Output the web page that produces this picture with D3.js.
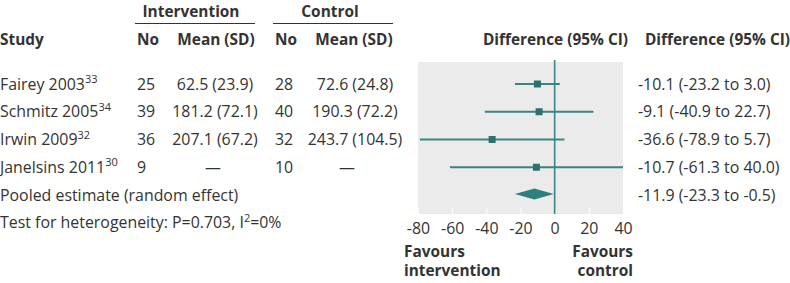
<!DOCTYPE html>
<html>
<head>
<meta charset="utf-8">
<script src="https://cdn.jsdelivr.net/npm/d3@7"></script>
<style>
  body { margin: 0; background: #fff; }
  svg { display: block; font-family: "Open Sans", sans-serif; }
</style>
</head>
<body>
<svg id="chart" width="790" height="283"></svg>
<script>
const studies = ["Fairey 2003", "Schmitz 2005", "Irwin 2009", "Janelsins 2011"];
const refs = ["33", "34", "32", "30"];
const nInt = ["25", "39", "36", "9"];
const meanInt = ["62.5 (23.9)", "181.2 (72.1)", "207.1 (67.2)", "—"];
const nCtl = ["28", "40", "32", "10"];
const meanCtl = ["72.6 (24.8)", "190.3 (72.2)", "243.7 (104.5)", "—"];
const diff = [-10.1, -9.1, -36.6, -10.7];
const lower = [-23.2, -40.9, -78.9, -61.3];
const upper = [3.0, 22.7, 5.7, 40.0];
const pooled = {diff: -11.9, lower: -23.3, upper: -0.5};
const xTicks = [-80, -60, -40, -20, 0, 20, 40];

const teal = "#3a8583";
const tealDark = "#2c7170";
const textColor = "#333";
const fontSize = 15.9;
const boldSize = 15.4;

const svg = d3.select("#chart");

const rowKeys = [...studies, "pooled"];
const y = d3.scalePoint()
    .domain(rowKeys)
    .range([84, 195]);

const x = d3.scaleLinear()
    .domain([-80, 40])
    .range([418, 623]);

const fmt = d => d.toFixed(1);
const ciLabel = (d, lo, hi) => fmt(d) + " (" + fmt(lo) + " to " + fmt(hi) + ")";

// header
const head = svg.append("g")
    .attr("fill", textColor)
    .style("font-weight", "bold")
    .style("font-size", boldSize + "px");

head.append("text").attr("x", 191).attr("y", 17).attr("text-anchor", "middle").text("Intervention");
head.append("text").attr("x", 330).attr("y", 17).attr("text-anchor", "middle").text("Control");
svg.append("line").attr("x1", 135).attr("x2", 255).attr("y1", 23.5).attr("y2", 23.5)
    .attr("stroke", textColor).attr("stroke-width", 1);
svg.append("line").attr("x1", 273).attr("x2", 393).attr("y1", 23.5).attr("y2", 23.5)
    .attr("stroke", textColor).attr("stroke-width", 1);

head.append("text").attr("x", 0).attr("y", 45).text("Study");
head.append("text").attr("x", 137).attr("y", 45).text("No");
head.append("text").attr("x", 216).attr("y", 45).attr("text-anchor", "middle").text("Mean (SD)");
head.append("text").attr("x", 275).attr("y", 45).text("No");
head.append("text").attr("x", 354).attr("y", 45).attr("text-anchor", "middle").text("Mean (SD)");
head.append("text").attr("x", 628).attr("y", 45).attr("text-anchor", "end").text("Difference (95% CI)");
head.append("text").attr("x", 790).attr("y", 45).attr("text-anchor", "end").text("Difference (95% CI)");

// plot background
const plot = svg.append("g");
plot.append("rect")
    .attr("x", x(-80)).attr("y", 62)
    .attr("width", x(40) - x(-80)).attr("height", 152)
    .attr("fill", "#ebebeb");

const axis = plot.append("g")
    .attr("transform", "translate(0,214)")
    .call(d3.axisBottom(x).tickValues(xTicks).tickSize(-6).tickPadding(9).tickFormat(d3.format("d")));
axis.select(".domain").remove();
axis.selectAll(".tick line").attr("stroke", "#fff").attr("stroke-width", 1);
axis.selectAll(".tick text")
    .attr("fill", textColor)
    .style("font-family", "'Open Sans', sans-serif")
    .style("font-size", fontSize + "px")
    .text(d => d < 0 ? "-" + Math.abs(d) : d);

// zero line
plot.append("line")
    .attr("x1", x(0)).attr("x2", x(0))
    .attr("y1", 60).attr("y2", 214)
    .attr("stroke", teal).attr("stroke-width", 1.6);

// study rows
const rows = svg.append("g")
    .attr("fill", textColor)
    .style("font-size", fontSize + "px");

studies.forEach((s, i) => {
    const yy = y(s) + 5.5;
    const t = rows.append("text").attr("x", 0).attr("y", yy);
    t.append("tspan").text(s);
    t.append("tspan").attr("dy", -6.5).style("font-size", "11px").text(refs[i]);
    rows.append("text").attr("x", 137).attr("y", yy).text(nInt[i]);
    rows.append("text").attr("x", meanInt[i] === "—" ? 213 : 215).attr("y", yy)
        .attr("text-anchor", "middle").text(meanInt[i]);
    rows.append("text").attr("x", 275).attr("y", yy).text(nCtl[i]);
    rows.append("text").attr("x", meanCtl[i] === "—" ? 347 : 355).attr("y", yy)
        .attr("text-anchor", "middle").text(meanCtl[i]);
    rows.append("text").attr("x", 638).attr("y", yy).text(ciLabel(diff[i], lower[i], upper[i]));
});

rows.append("text").attr("x", 0).attr("y", y("pooled") + 5.5).text("Pooled estimate (random effect)");
rows.append("text").attr("x", 638).attr("y", y("pooled") + 5.5)
    .text(ciLabel(pooled.diff, pooled.lower, pooled.upper));

const het = rows.append("text").attr("x", 0).attr("y", 228);
het.append("tspan").text("Test for heterogeneity: P=0.703, I");
het.append("tspan").attr("dy", -6.5).style("font-size", "11px").text("2");
het.append("tspan").attr("dy", 6.5).text("=0%");

// CI lines and markers
const marks = svg.append("g");
marks.selectAll("line.ci")
    .data(studies)
    .join("line")
    .attr("class", "ci")
    .attr("x1", (d, i) => x(Math.max(lower[i], -80)))
    .attr("x2", (d, i) => x(Math.min(upper[i], 40)))
    .attr("y1", d => y(d)).attr("y2", d => y(d))
    .attr("stroke", teal).attr("stroke-width", 1.8);

marks.selectAll("rect.pt")
    .data(studies)
    .join("rect")
    .attr("class", "pt")
    .attr("x", (d, i) => x(diff[i]) - 3.5)
    .attr("y", d => y(d) - 3.5)
    .attr("width", 7).attr("height", 7)
    .attr("fill", tealDark);

const py = y("pooled") - 1;
marks.append("path")
    .attr("d", "M" + x(pooled.lower) + "," + py +
        "L" + x(pooled.diff) + "," + (py - 5.5) +
        "L" + x(pooled.upper) + "," + py +
        "L" + x(pooled.diff) + "," + (py + 5.5) + "Z")
    .attr("fill", "#2f807d");

// favours labels
const fav = svg.append("g")
    .attr("fill", textColor)
    .style("font-weight", "bold")
    .style("font-size", boldSize + "px");
fav.append("text").attr("x", 404).attr("y", 257).text("Favours");
fav.append("text").attr("x", 404).attr("y", 276).text("intervention");
fav.append("text").attr("x", 633).attr("y", 257).attr("text-anchor", "end").text("Favours");
fav.append("text").attr("x", 633).attr("y", 276).attr("text-anchor", "end").text("control");
</script>
</body>
</html>
